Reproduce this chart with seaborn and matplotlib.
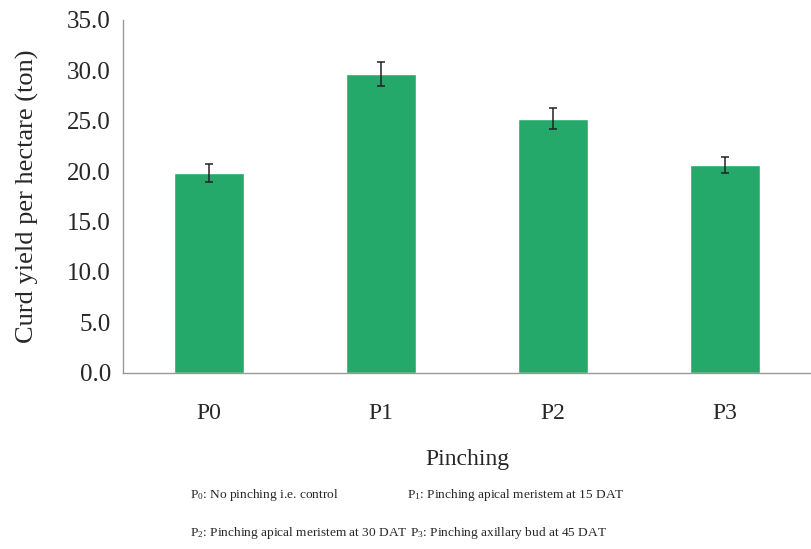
import numpy as np
import pandas as pd
import seaborn as sns
from matplotlib import pyplot as plt

treatments = ["P0", "P1", "P2", "P3"]
yield_ton = [19.8, 29.6, 25.2, 20.6]
yield_err = [0.85, 1.2, 1.05, 0.8]

notes = [
    "P$_0$: No pinching i.e. control",
    "P$_1$: Pinching apical meristem at 15 DAT",
    "P$_2$: Pinching apical meristem at 30 DAT",
    "P$_3$: Pinching axillary bud at 45 DAT",
]


def plot_bars(data, file_name):
    sns.set_style("white")
    plt.rcParams['font.family'] = ['Liberation Serif', 'DejaVu Serif']
    plt.rcParams['mathtext.fontset'] = 'custom'
    plt.rcParams['mathtext.rm'] = 'Liberation Serif'
    plt.rcParams['mathtext.it'] = 'Liberation Serif'

    fig = plt.figure(figsize=(8.11, 5.49), dpi=100)
    ax = fig.add_axes([0.152, 0.321, 0.848, 0.643])

    sns.barplot(x="treatment", y="yield", data=data, color="#25A96B",
                width=0.41, errorbar=None, saturation=1, ax=ax)
    ax.errorbar(np.arange(len(data)), data["yield"], yerr=data["err"],
                fmt="none", ecolor="#222222", elinewidth=1.1, capsize=3, capthick=1.1)

    ax.set_ylim(0, 35)
    ax.set_xlim(-0.5, 3.5)
    ax.set_yticks(np.arange(0, 36, 5))
    ax.set_yticklabels([f"{v:.1f}" for v in np.arange(0, 36, 5)], fontsize=18)
    ax.set_xticks(range(len(treatments)))
    ax.set_xticklabels(treatments, fontsize=17)
    ax.set_xticks(np.arange(-0.5, 3.6, 1), minor=True)
    ax.tick_params(axis="x", which="major", length=0, pad=22)
    ax.tick_params(axis="x", which="minor", length=4, color="#999999", direction="out")
    ax.tick_params(axis="y", length=5, color="#999999", direction="out", pad=4)

    for side in ["top", "right"]:
        ax.spines[side].set_visible(False)
    for side in ["left", "bottom"]:
        ax.spines[side].set_color("#999999")
        ax.spines[side].set_linewidth(1)

    ax.set_xlabel("Pinching", fontsize=17, labelpad=18)
    ax.set_ylabel("Curd yield per hectare (ton)", fontsize=19, labelpad=20)

    # footnote legend for treatment codes
    fig.text(0.234, 0.098, notes[0], fontsize=9.6, va="center")
    fig.text(0.502, 0.098, notes[1], fontsize=9.6, va="center")
    fig.text(0.234, 0.029, notes[2], fontsize=9.6, va="center")
    fig.text(0.505, 0.029, notes[3], fontsize=9.6, va="center")

    plt.savefig(file_name, dpi=100)


def main():
    df = pd.DataFrame({"treatment": treatments, "yield": yield_ton, "err": yield_err})
    plot_bars(df, "out.png")


if __name__ == "__main__":
    main()
